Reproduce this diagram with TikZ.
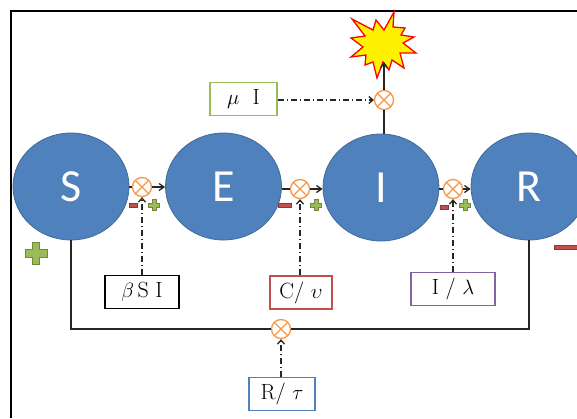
\documentclass[tikz,border=0pt]{standalone}
\usepackage{fontspec}
\usepackage{amsmath}
\usepackage{tikz}
\setsansfont{Carlito}
\definecolor{StateBlue}{HTML}{4F81BD}
\definecolor{StateEdge}{HTML}{41699A}
\definecolor{MultOrange}{HTML}{F79646}
\definecolor{RateGreen}{HTML}{9BBB59}
\definecolor{RateRed}{HTML}{C0504D}
\definecolor{RatePurple}{HTML}{8064A2}
\definecolor{PlusEdge}{HTML}{71893F}
\definecolor{MinusEdge}{HTML}{8C3836}
\tikzset{
  statenode/.style={ellipse,draw=StateEdge,fill=StateBlue,line width=0.8pt,
    minimum width=116pt,minimum height=107pt,inner sep=0pt,
    font=\fontsize{46}{48}\selectfont\sffamily\color{white}},
  multnode/.style={circle,draw=MultOrange,fill=white,line width=1.3pt,
    minimum size=19pt,inner sep=0pt,
    path picture={\draw[MultOrange,line width=1.3pt]
      (path picture bounding box.north west) -- (path picture bounding box.south east)
      (path picture bounding box.north east) -- (path picture bounding box.south west);}},
  ratenode/.style={draw=#1,fill=white,line width=1.3pt,minimum height=33pt,inner sep=0pt,
    font=\fontsize{22}{24}\selectfont},
  edgeF/.style={line width=1.3pt,draw=black!85},
  edgeA/.style={edgeF,-{Straight Barb[length=5pt,width=7pt]}},
  edgeR/.style={line width=1.3pt,draw=black!85,dash pattern=on 6pt off 3pt on 1pt off 3pt,
    -{Straight Barb[length=4pt,width=7pt]}},
  plusmark/.pic={\fill[RateGreen,draw=PlusEdge,line width=0.6pt]
    (-1,-0.34) -- (-0.34,-0.34) -- (-0.34,-1) -- (0.34,-1) -- (0.34,-0.34) -- (1,-0.34)
    -- (1,0.34) -- (0.34,0.34) -- (0.34,1) -- (-0.34,1) -- (-0.34,0.34) -- (-1,0.34) -- cycle;},
}
\usetikzlibrary{shapes.geometric,arrows.meta}
\begin{document}
\begin{tikzpicture}[x=1pt,y=-1pt]
  \useasboundingbox (0,0) rectangle (577,418);
  \draw[line width=2pt,black] (577,11) -- (11,11) -- (11,418);
  % blast
  \draw[red,fill=yellow,line width=1.3pt] (394,12) -- (393,27) -- (405,28) -- (401,35) -- (414,37)
    -- (403,43) -- (416,53) -- (400,53) -- (404,68) -- (392,60) -- (389,70) -- (383,62)
    -- (377,78) -- (373,62) -- (365,65) -- (366,55) -- (351,57) -- (363,47) -- (351,38)
    -- (365,36) -- (352,19) -- (373,30) -- (376,20) -- (384,30) -- cycle;
  \coordinate (blast) at (384,62);
  \node[statenode] (S) at (71,186.5) {S};
  \node[statenode] (E) at (223.5,186.5) {E};
  \node[statenode] (I) at (381,187.5) {I};
  \node[statenode] (R) at (529,186.5) {R};
  \node[multnode] (m1) at (142,187) {};
  \node[multnode] (m2) at (300,189) {};
  \node[multnode] (m3) at (453,189) {};
  \node[multnode] (m4) at (384,100) {};
  \node[multnode] (m5) at (281,329) {};
  \node[ratenode=RateGreen,minimum width=67pt] (rmu) at (243.5,99) {$\mu$\ \ I};
  \node[ratenode=black,minimum width=74pt] (rbeta) at (142,292) {$\beta$\,S I};
  \node[ratenode=RateRed,minimum width=62pt] (rnu) at (301,292.5) {C/ $\upsilon$};
  \node[ratenode=RatePurple,minimum width=84pt] (rlam) at (453,289) {I / $\lambda$};
  \node[ratenode=StateBlue,minimum width=66pt] (rtau) at (282,394) {R/ $\tau$};
  \draw[edgeF] (S.east |- m1) -- (m1);
  \draw[edgeA] (m1) -- (E.west |- m1);
  \draw[edgeF] (E.east |- m2) -- (m2);
  \draw[edgeA] (m2) -- (I.west |- m2);
  \draw[edgeF] (I.east |- m3) -- (m3);
  \draw[edgeA] (m3) -- (R.west |- m3);
  \draw[edgeF] (I.north -| m4) -- (m4);
  \draw[edgeA] (m4) -- (blast);
  \draw[edgeF] (S.south) |- (m5);
  \draw[edgeF] (R.south) |- (m5);
  \draw[edgeR] (rbeta) -- (m1);
  \draw[edgeR] (rnu.north -| m2) -- (m2);
  \draw[edgeR] (rlam) -- (m3);
  \draw[edgeR] (rtau.north -| m5) -- (m5);
  \draw[edgeR] (rmu.east |- m4) -- (m4);
  \pic[scale=5.5] at (154,205) {plusmark};
  \pic[scale=5.5] at (316,205) {plusmark};
  \pic[scale=5.5] at (465,205) {plusmark};
  \pic[scale=11] at (36,253.5) {plusmark};
  \fill[RateRed,draw=MinusEdge,line width=0.5pt] (129.5,203) rectangle (137.5,207);
  \fill[RateRed,draw=MinusEdge,line width=0.5pt] (278,203) rectangle (291,207);
  \fill[RateRed,draw=MinusEdge,line width=0.5pt] (440,205) rectangle (448,209);
  \fill[RateRed,draw=MinusEdge,line width=0.5pt] (554,245) rectangle (578,249);
\end{tikzpicture}
\end{document}
